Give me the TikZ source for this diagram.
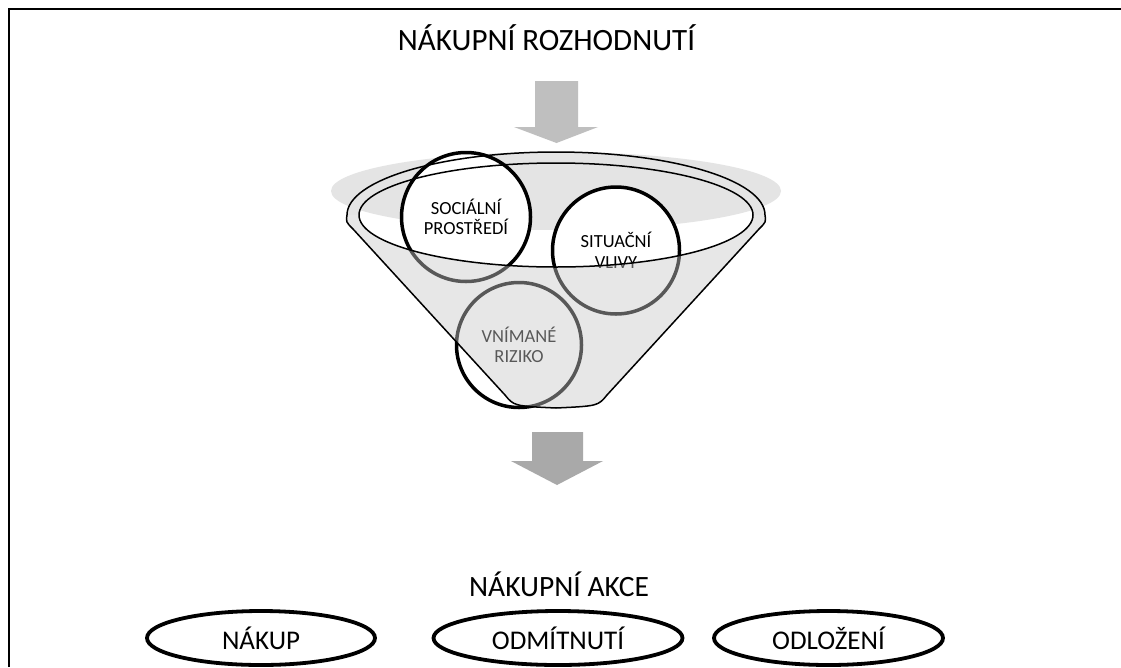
\documentclass[tikz,border=0pt]{standalone}
\usepackage{fontspec}
\setmainfont{Carlito}
\usetikzlibrary{shapes.geometric}
\definecolor{arrowtop}{HTML}{BFBFBF}
\definecolor{arrowbot}{HTML}{A9A9A9}
\definecolor{rimgray}{HTML}{E4E4E4}
\definecolor{overlaygray}{HTML}{CACACA}
\def\funnelouter{(347,215) arc[start angle=180,end angle=360,x radius=209,y radius=63]
  .. controls (766,222) .. (759,229) -- (607,395) .. controls (598,406) .. (556,408)
  .. controls (514,406) .. (505,395) -- (353,229) .. controls (346,222) .. (347,215) -- cycle}
\def\funnelbody{(359,215) arc[start angle=180,end angle=0,x radius=197,y radius=52]
  -- (765,215) .. controls (766,222) .. (759,229) -- (607,395) .. controls (598,406) .. (556,408)
  .. controls (514,406) .. (505,395) -- (353,229) .. controls (346,222) .. (347,215) -- cycle}
\begin{document}
\begin{tikzpicture}[x=1pt,y=-1pt,
  titletext/.style={anchor=base,inner sep=0pt,font=\fontsize{31}{36}\selectfont},
  subtitletext/.style={anchor=base,inner sep=0pt,font=\fontsize{29.5}{34}\selectfont},
  circlebox/.style={circle,draw=black,fill=white,line width=3.5pt,inner sep=0pt,align=center,
    font=\fontsize{18.5}{20.5}\selectfont},
  ovalbox/.style={ellipse,draw=black,fill=white,line width=3.8pt,inner sep=0pt,
    minimum height=54pt,font=\fontsize{27}{31}\selectfont},
  outline/.style={draw=black,line width=1.5pt}]
\useasboundingbox (0,0) rectangle (1121,667);
\fill[white] (0,0) rectangle (1121,667);
% frame
\draw[line width=1.6pt] (9,667) -- (9,9) -- (1121,9);
% title
\node[titletext] (title) at (546.5,50) {NÁKUPNÍ ROZHODNUTÍ};
% top arrow
\fill[arrowtop] (535,81) -- (578,81) -- (578,127) -- (598,127) -- (556.5,143) -- (514,127) -- (535,127) -- cycle;
% funnel back layers
\fill[rimgray] (556,191) ellipse [x radius=225, y radius=39];
\fill[rimgray,even odd rule] \funnelouter (556,215) ellipse [x radius=197, y radius=52];
\fill[white] \funnelbody;
% circles
\node[circlebox,minimum size=129pt] (soc) at (466,217) {SOCIÁLNÍ\\PROSTŘEDÍ};
\node[circlebox,minimum size=127pt] (sit) at (616,250.5) {SITUAČNÍ\\VLIVY};
\node[circlebox,minimum size=125pt] (vni) at (519,345) {VNÍMANÉ\\RIZIKO};
% front overlay of the funnel
\fill[overlaygray,fill opacity=0.44] \funnelbody;
% outlines
\draw[outline] \funnelouter;
\draw[outline] (556,215) ellipse [x radius=197, y radius=52];
% bottom arrow
\fill[arrowbot] (532,432) -- (583,432) -- (583,461) -- (603,461) -- (557,485) -- (511,461) -- (532,461) -- cycle;
% actions
\node[subtitletext] (akce) at (559,596) {NÁKUPNÍ AKCE};
\node[ovalbox,minimum width=228pt] (nakup) at (261,638) {NÁKUP};
\node[ovalbox,minimum width=249pt] (odm) at (558,638) {ODMÍTNUTÍ};
\node[ovalbox,minimum width=229pt] (odl) at (828.5,638) {ODLOŽENÍ};
\end{tikzpicture}
\end{document}
